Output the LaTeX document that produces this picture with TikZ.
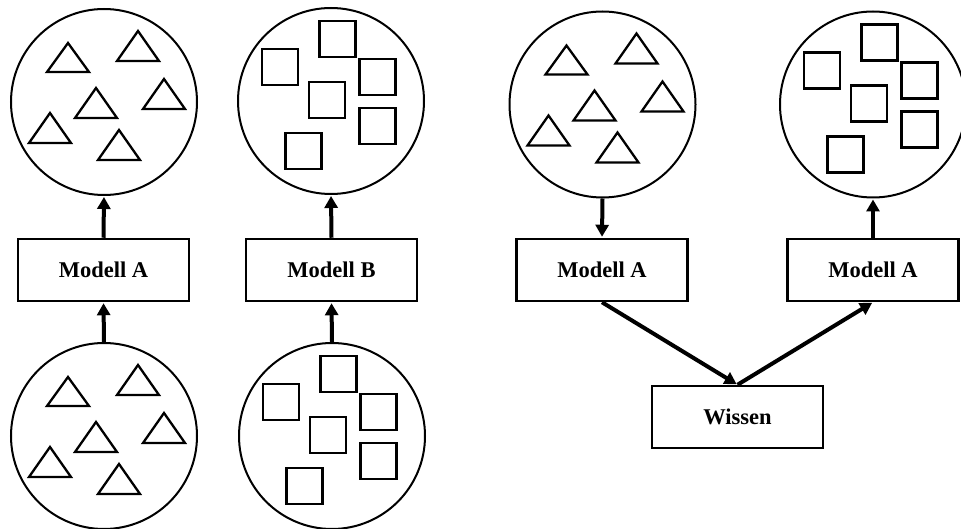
\documentclass[tikz,border=0pt]{standalone}
\usepackage{fontspec}
\setmainfont{Liberation Serif}
\usetikzlibrary{arrows.meta}

\tikzset{
  pool/.style={circle, draw, line width=2pt, minimum size=186pt, inner sep=0pt},
  modelbox/.style={rectangle, draw, line width=2.5pt, minimum width=171pt, minimum height=62pt,
    inner sep=0pt, font=\fontsize{22.5}{26}\selectfont\bfseries},
  flow/.style={line width=4pt, -{Triangle[length=12pt,width=13pt]}, shorten >=1pt},
  tri/.style={line width=2.3pt, line join=miter},
  sq/.style={line width=2.8pt},
}

% six triangles around the current origin
\newcommand{\trigroup}{%
  \foreach \ax/\ay/\by in {-36/-59/-30, 34/-71/-41, -8/-14/16, 60/-23/7, -54/11/41, 15/28/58}{
    \draw[tri] (\ax,\ay) -- (\ax+21,\by) -- (\ax-21,\by) -- cycle;
  }%
}
% six squares around the current origin
\newcommand{\sqgroup}{%
  \foreach \cx/\cy in {6.5/-62, -51/-34, 46.5/-24, -4/-1, 46.5/25, -27.5/50}{
    \draw[sq] (\cx-18,\cy-18) rectangle (\cx+18,\cy+18);
  }%
}

\begin{document}
\begin{tikzpicture}[x=1pt, y=-1pt]
\useasboundingbox (0,0) rectangle (961,529);

% left part: two separate models
\node[pool] (c1)  at (104,102) {};
\node[pool] (c2)  at (331,101) {};
\node[pool] (c1b) at (104,436) {};
\node[pool] (c2b) at (332,436) {};
\begin{scope}[shift={(104,102)}]\trigroup\end{scope}
\begin{scope}[shift={(104,436)}]\trigroup\end{scope}
\begin{scope}[shift={(331,101)}]\sqgroup\end{scope}
\begin{scope}[shift={(332,436)}]\sqgroup\end{scope}

\node[modelbox] (m1) at (103.5,270) {Modell A};
\node[modelbox] (m2) at (331.5,270) {Modell B};

\draw[flow] (m1.north) -- (c1.south);
\draw[flow] (m2.north) -- (c2.south);
\draw[flow] (c1b.north) -- (m1.south);
\draw[flow] (c2b.north) -- (m2.south);

% right part: transfer through shared knowledge
\node[pool] (c3) at (602.5,104.5) {};
\node[pool] (c4) at (873,104.5) {};
\begin{scope}[shift={(602.5,104.5)}]\trigroup\end{scope}
\begin{scope}[shift={(873,104.5)}]\sqgroup\end{scope}

\node[modelbox] (m3) at (602,270) {Modell A};
\node[modelbox] (m4) at (873,270) {Modell A};
\node[modelbox] (w)  at (737.5,417) {Wissen};

\draw[flow] (c3.south) -- (m3.north);
\draw[flow] (m3.south) -- (w.north);
\draw[flow] (w.north) -- (m4.south);
\draw[flow] (m4.north) -- (c4.south);
\end{tikzpicture}
\end{document}
